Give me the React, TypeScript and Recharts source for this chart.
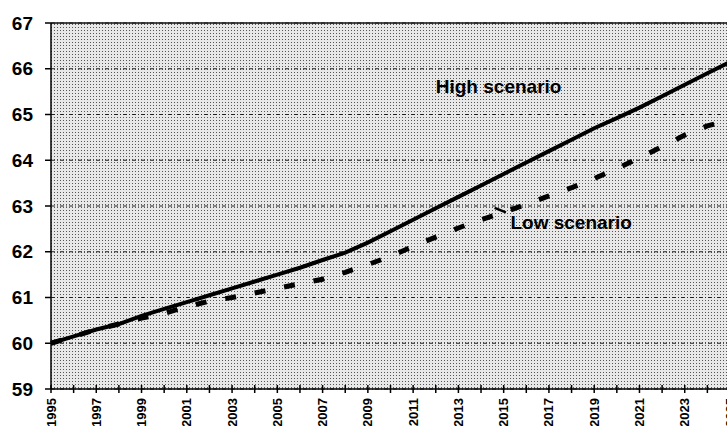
import React from "react";
import {
  LineChart,
  Line,
  XAxis,
  YAxis,
  CartesianGrid,
  ReferenceLine,
  ReferenceDot,
} from "recharts";

const years = [
  1995, 1996, 1997, 1998, 1999, 2000, 2001, 2002, 2003, 2004, 2005, 2006,
  2007, 2008, 2009, 2010, 2011, 2012, 2013, 2014, 2015, 2016, 2017, 2018,
  2019, 2020, 2021, 2022, 2023, 2024, 2025,
];

const highScenario = [
  60.0, 60.15, 60.3, 60.42, 60.6, 60.75, 60.9, 61.05, 61.2, 61.35, 61.5,
  61.65, 61.82, 61.98, 62.2, 62.45, 62.7, 62.95, 63.2, 63.45, 63.7, 63.95,
  64.2, 64.45, 64.7, 64.92, 65.15, 65.4, 65.65, 65.9, 66.15,
];

const lowScenario = [
  60.0, 60.15, 60.3, 60.42, 60.55, 60.65, 60.8, 60.92, 61.0, 61.1, 61.2,
  61.3, 61.4, 61.55, 61.72, 61.9, 62.12, 62.32, 62.52, 62.7, 62.86, 63.04,
  63.22, 63.4, 63.6, 63.82, 64.05, 64.3, 64.55, 64.75, 64.88,
];

const yTicks = [59, 60, 61, 62, 63, 64, 65, 66, 67];

const data = years.map((year, i) => ({
  year,
  high: highScenario[i],
  low: lowScenario[i],
}));

const FONT = "'Liberation Sans', Arial, sans-serif";

function YearTick(props: any) {
  const { x, y, payload } = props;
  const showLabel = (payload.value - 1995) % 2 === 0;
  return (
    <g>
      <line x1={x} x2={x} y1={y - 4} y2={y + 4} stroke="#000" strokeWidth={1.5} />
      {showLabel && (
        <text
          x={x}
          y={y + 9}
          transform={`rotate(-90 ${x} ${y + 9})`}
          textAnchor="end"
          dominantBaseline="central"
          fontFamily={FONT}
          fontWeight="bold"
          fontSize={13}
          fill="#000"
        >
          {payload.value}
        </text>
      )}
    </g>
  );
}

function Annotation(props: any) {
  const { viewBox, value } = props;
  return (
    <text
      x={viewBox.x}
      y={viewBox.y}
      fontFamily={FONT}
      fontWeight="bold"
      fontSize={19}
      fill="#000"
    >
      {value}
    </text>
  );
}

export default function App() {
  return (
    <div
      style={{
        position: "absolute",
        left: 0,
        top: 0,
        width: 727,
        height: 426,
        overflow: "hidden",
        background: "#fff",
      }}
    >
      <LineChart
        width={731}
        height={426}
        data={data}
        margin={{ top: 23, right: 1, left: 0, bottom: 0 }}
      >
        <defs>
          <pattern id="stipple" width={3} height={3} patternUnits="userSpaceOnUse">
            <rect width={3} height={3} fill="#e8e8e8" />
            <rect x={0} y={0} width={1} height={1} fill="#555" />
          </pattern>
        </defs>
        <CartesianGrid
          vertical={false}
          fill="url(#stipple)"
          stroke="#222"
          strokeDasharray="4 2 1 2"
        />
        <ReferenceLine y={67} stroke="#111" strokeWidth={1.5} />
        <XAxis
          dataKey="year"
          type="number"
          domain={[1995, 2025]}
          ticks={years}
          interval={0}
          height={37}
          tickLine={false}
          tickSize={0}
          tickMargin={0}
          tick={<YearTick />}
          axisLine={{ stroke: "#000", strokeWidth: 1.5 }}
        />
        <YAxis
          domain={[59, 67]}
          ticks={yTicks}
          interval={0}
          width={51}
          tickSize={6}
          tickMargin={12}
          tickLine={{ stroke: "#000", strokeWidth: 1.5 }}
          axisLine={{ stroke: "#000", strokeWidth: 1.5 }}
          tick={{
            fill: "#000",
            fontFamily: FONT,
            fontWeight: "bold",
            fontSize: 19,
          }}
        />
        <Line
          dataKey="low"
          stroke="#000"
          strokeWidth={5}
          strokeDasharray="11 19"
          dot={false}
          isAnimationActive={false}
        />
        <Line
          dataKey="high"
          stroke="#000"
          strokeWidth={4}
          dot={false}
          isAnimationActive={false}
        />
        <ReferenceLine
          segment={[
            { x: 2014.6, y: 62.96 },
            { x: 2015.1, y: 62.86 },
          ]}
          stroke="#000"
          strokeWidth={2.5}
        />
        <ReferenceDot
          x={2012}
          y={65.48}
          r={0}
          fill="none"
          stroke="none"
          label={<Annotation value="High scenario" />}
        />
        <ReferenceDot
          x={2015.3}
          y={62.5}
          r={0}
          fill="none"
          stroke="none"
          label={<Annotation value="Low scenario" />}
        />
      </LineChart>
    </div>
  );
}
